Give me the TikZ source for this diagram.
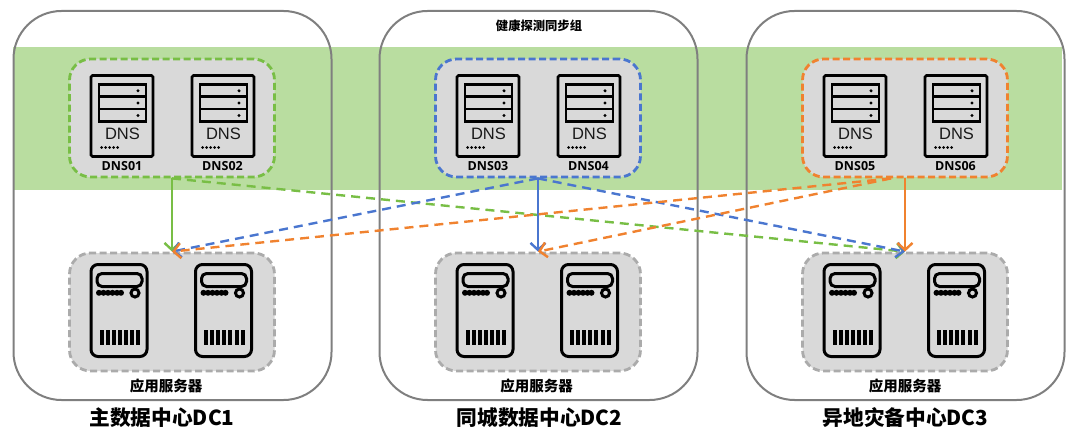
\documentclass[tikz,border=0pt]{standalone}
\usepackage{fontspec}
\setmainfont{Open Sans}
\newfontfamily\cjk{Noto Sans CJK SC}
\newfontfamily\iconfont{Liberation Sans}
\usetikzlibrary{arrows.meta,calc}
\definecolor{bandgreen}{HTML}{B9DDA0}
\definecolor{gn}{HTML}{78BE45}
\definecolor{bl}{HTML}{4A76CF}
\definecolor{og}{HTML}{F0822F}
\definecolor{gr}{HTML}{ABABAB}
\definecolor{boxfill}{HTML}{D9D9D9}
\definecolor{panelline}{HTML}{7F7F7F}
\tikzset{
  x=1pt,y=-1pt,
  panel/.style={draw=panelline,line width=2pt,rounded corners=48pt,minimum width=318pt,minimum height=389pt,inner sep=0pt},
  groupbox/.style={fill=boxfill,line width=2.8pt,dash pattern=on 7pt off 3.5pt,rounded corners=21pt,minimum width=205pt,minimum height=118pt,inner sep=0pt},
  iconline/.style={draw=black,line width=2.7pt},
  caption/.style={inner sep=0pt,font=\bfseries\fontsize{12.5}{14}\selectfont},
  cjkcaption/.style={inner sep=0pt,font=\cjk\bfseries\fontsize{14.5}{16}\selectfont},
  title/.style={inner sep=0pt,font=\cjk\bfseries\fontsize{20.7}{24}\selectfont},
  link/.style={line width=2.4pt,-{Straight Barb[length=7pt,width=15pt,line width=2.4pt]}},
  dlink/.style={link,dash pattern=on 9pt off 6pt},
  dnsicon/.pic={
    \draw[iconline,rounded corners=1.5pt] (0,0) rectangle (62,81);
    \draw[iconline] (8,9) rectangle (55,46);
    \draw[iconline] (8,21.3) -- (55,21.3) (8,33.6) -- (55,33.6);
    \foreach \yy in {15.3,27.5,40} \fill (47,\yy) circle (1.7);
    \foreach \xx in {10.5,14.5,18.5,22.5,26.5} \fill (\xx,72) circle (1.5);
    \node[inner sep=0pt,font=\iconfont\fontsize{16.5}{18}\selectfont,text=black!90] (t) at (31.5,58) {DNS};
  },
  srvicon/.pic={
    \draw[iconline,line width=3pt,rounded corners=7pt] (0,0) rectangle (56,92);
    \draw[iconline,line width=3pt,rounded corners=5pt] (6,22) -- (6,9) -- (51,9) -- (51,22) -- cycle;
    \foreach \xx in {8,12.5,17,21.5,26,30} \fill (\xx,28.3) circle (3);
    \draw[iconline,line width=3pt] (44,28.5) circle (4);
    \foreach \xx in {10.5,16.6,22.7,28.8,34.9,41,47.1} \fill (\xx-2,65.5) rectangle (\xx+2,80);
  }
}
\begin{document}
\begin{tikzpicture}
\useasboundingbox (0,0) rectangle (1080,441);
\fill[bandgreen] (13,47) rectangle (1062,190);
\node[panel] (dc1) at (172.5,205.5) {};
\node[panel] (dc2) at (538.5,205.5) {};
\node[panel] (dc3) at (905.5,205.5) {};
\node[inner sep=0pt,font=\cjk\bfseries\fontsize{12.3}{14}\selectfont] (grp) at (539,26) {健康探测同步组};

\foreach \i/\o/\c/\ta/\tb/\tt/\tx/\ax in {
  1/0/gn/DNS01/DNS02/主数据中心DC1/162/166,
  2/366/bl/DNS03/DNS04/同城数据中心DC2/539.5/536.5,
  3/733/og/DNS05/DNS06/异地灾备中心DC3/905.5/905}{
  \begin{scope}[shift={(\o,0)}]
    \node[groupbox,draw=\c] (dns\i) at (172,118) {};
    \node[groupbox,draw=gr] (app\i) at (172,312) {};
    \pic at (91,75.5) {dnsicon};
    \pic at (192,75.5) {dnsicon};
    \node[caption] (la\i) at (122,166) {\ta};
    \node[caption] (lb\i) at (222.5,166) {\tb};
    \pic at (91,264.5) {srvicon};
    \pic at (195.5,264.5) {srvicon};
  \end{scope}
  \node[cjkcaption] (lapp\i) at (\ax,385.5) {应用服务器};
  \node[title] (title\i) at (\tx,418) {\tt};
}

\coordinate (gs) at (dns1.south);
\coordinate (bs) at (dns2.south);
\coordinate (os) at (dns3.south);
\coordinate (od) at ($(dns3.south)+(-14,0)$);
\coordinate (at1) at (app1.north);
\coordinate (at2) at (app2.north);
\coordinate (at3) at (app3.north);

\draw[dlink,gn] (gs) -- (at3);
\draw[link,gn] (gs) -- (at1);
\draw[dlink,bl] (bs) -- (at1);
\draw[dlink,bl] (bs) -- (at3);
\draw[link,bl] (bs) -- (at2);
\draw[dlink,og] (od) -- (at1);
\draw[dlink,og] (od) -- (at2);
\draw[link,og] (os) -- (at3);
\end{tikzpicture}
\end{document}
